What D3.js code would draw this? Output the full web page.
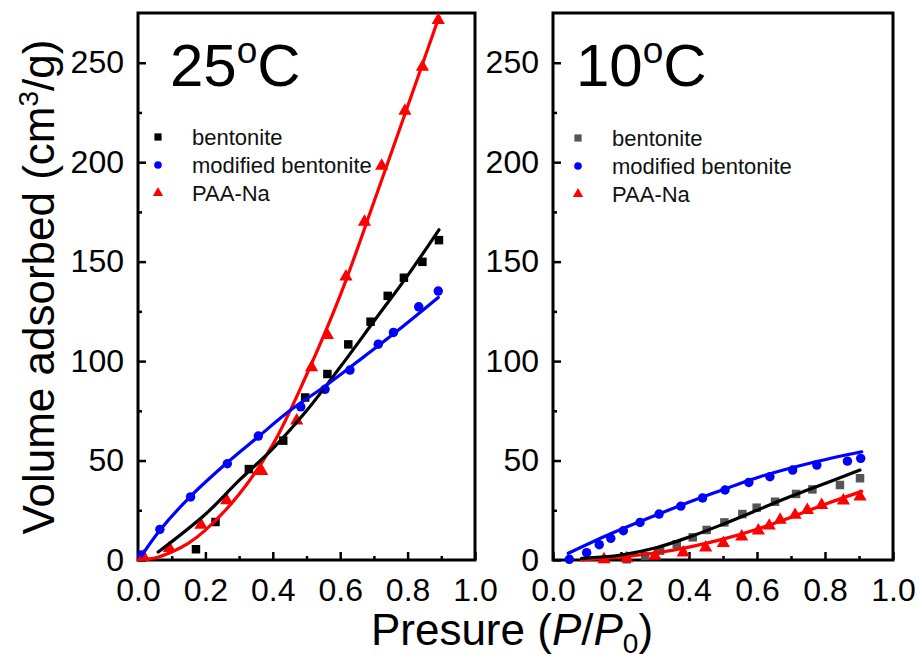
<!DOCTYPE html>
<html>
<head>
<meta charset="utf-8">
<script src="https://cdn.jsdelivr.net/npm/d3@7"></script>
<style>
  html, body { margin: 0; padding: 0; background: #fff; }
  svg { display: block; font-family: "Liberation Sans", Arial, sans-serif; }
</style>
</head>
<body>
<svg id="chart" width="920" height="663"></svg>
<script>
// ---------- data ----------
const xTicks = [0, 0.2, 0.4, 0.6, 0.8, 1.0];
const xMinorTicks = [0.1, 0.3, 0.5, 0.7, 0.9];
const yTicks = [0, 50, 100, 150, 200, 250];
const yMinorTicks = [25, 75, 125, 175, 225];
const seriesNames = ["bentonite", "modified bentonite", "PAA-Na"];

// 25 °C panel: measured points [P/P0, volume]
const bent25 = [[0.172,5.4],[0.23,19.1],[0.329,45.7],[0.431,60],[0.496,81.7],[0.562,93.5],[0.624,108.4],[0.69,119.8],[0.741,132.8],[0.789,141.9],[0.844,149.9],[0.893,160.8]];
const mod25  = [[0.011,2.5],[0.065,15.4],[0.156,31.7],[0.265,48.4],[0.357,62.3],[0.483,77],[0.555,85.8],[0.629,95.5],[0.713,108.5],[0.758,114.4],[0.833,127.3],[0.891,135.2]];
const paa25  = [[0.016,1.7],[0.093,5.9],[0.187,17.6],[0.263,30],[0.367,44.7],[0.471,70],[0.515,96.8],[0.562,113],[0.617,142.4],[0.672,170],[0.723,198.1],[0.792,225.8],[0.844,247.9],[0.891,271.4]];
// 25 °C fitted curves (traced)
const bent25Fit = [[0.06,4],[0.2,23],[0.3,40],[0.4,56],[0.5,75],[0.6,97],[0.7,120],[0.8,143],[0.893,166]];
const mod25Fit  = [[0.01,2],[0.065,15],[0.156,32],[0.265,49],[0.357,62],[0.45,75],[0.56,88],[0.669,102],[0.768,115],[0.891,132]];
const paa25Fit  = [[0.0,0],[0.05,1],[0.1,4],[0.15,8.5],[0.2,15],[0.3,33],[0.4,58],[0.5,93],[0.6,133],[0.7,180],[0.8,228],[0.893,273]];

// 10 °C panel: measured points
const bent10 = [[0.217,0.35],[0.271,2],[0.315,4.7],[0.364,7.9],[0.411,11.4],[0.452,15.1],[0.504,18.9],[0.557,23.1],[0.599,26.3],[0.653,29.3],[0.715,33.2],[0.763,35.5],[0.844,37.7],[0.903,41.1]];
const mod10  = [[0.048,0.35],[0.099,3.7],[0.136,7.7],[0.17,10.9],[0.207,14.7],[0.256,18.9],[0.312,23.1],[0.376,27.1],[0.44,31.2],[0.506,35.2],[0.576,39],[0.638,41.9],[0.705,45.2],[0.776,47.7],[0.866,49.7],[0.905,51.1]];
const paa10  = [[0.15,0.3],[0.217,0.8],[0.3,2],[0.383,3.7],[0.449,6.2],[0.501,8.4],[0.555,11.7],[0.604,14.7],[0.636,17.2],[0.668,20.1],[0.712,22.6],[0.748,25.1],[0.79,27.6],[0.854,29.8],[0.903,31.8]];
// 10 °C fitted curves (traced)
const bent10Fit = [[0.084,0.8],[0.2,2.5],[0.3,6],[0.4,11.5],[0.5,18],[0.6,25],[0.7,32],[0.8,38.5],[0.903,45.2]];
const mod10Fit  = [[0.045,3.4],[0.168,13.1],[0.315,23.4],[0.462,33],[0.609,41.9],[0.758,48.8],[0.908,54.4]];
const paa10Fit  = [[0.084,0],[0.2,1.5],[0.3,3.5],[0.4,6.5],[0.5,10.5],[0.6,15.5],[0.7,21.5],[0.8,28],[0.908,34.5]];

// ---------- drawing ----------
const svg = d3.select("#chart");
const yTop = 13, yBottom = 560;
const y = d3.scaleLinear().domain([0, 275]).range([yBottom, yTop]);

const panels = [
  { x0: 138, x1: 475, title: "25", bentColor: "#000000",
    bent: bent25, mod: mod25, paa: paa25, bentFit: bent25Fit, modFit: mod25Fit, paaFit: paa25Fit,
    titleX: 170, legendX: 158, legendTextX: 192, legendY: 137 },
  { x0: 553, x1: 893, title: "10", bentColor: "#555555",
    bent: bent10, mod: mod10, paa: paa10, bentFit: bent10Fit, modFit: mod10Fit, paaFit: paa10Fit,
    titleX: 576, legendX: 578, legendTextX: 612, legendY: 138 }
];

const RED = "#ff0000", BLUE = "#0000ff";

panels.forEach(P => {
  const x = d3.scaleLinear().domain([0, 1]).range([P.x0, P.x1]);
  const g = svg.append("g");

  // axes with inward ticks
  const xAxis = g.append("g").attr("transform", `translate(0,${yBottom})`)
    .call(d3.axisBottom(x).tickValues(xTicks).tickSizeInner(-8).tickSizeOuter(0).tickPadding(18)
      .tickFormat(d3.format(".1f")));
  const xAxisMinor = g.append("g").attr("transform", `translate(0,${yBottom})`)
    .call(d3.axisBottom(x).tickValues(xMinorTicks).tickSizeInner(-4).tickSizeOuter(0).tickFormat(""));
  const yAxis = g.append("g").attr("transform", `translate(${P.x0},0)`)
    .call(d3.axisLeft(y).tickValues(yTicks).tickSizeInner(-8).tickSizeOuter(0).tickPadding(14));
  const yAxisMinor = g.append("g").attr("transform", `translate(${P.x0},0)`)
    .call(d3.axisLeft(y).tickValues(yMinorTicks).tickSizeInner(-4).tickSizeOuter(0).tickFormat(""));
  [xAxis, xAxisMinor, yAxis, yAxisMinor].forEach(a => {
    a.select(".domain").remove();
    a.selectAll(".tick line").attr("stroke", "#000").attr("stroke-width", 2.5);
    a.selectAll("text").attr("fill", "#000").attr("font-family", '"Liberation Sans", Arial, sans-serif');
  });
  xAxis.selectAll("text").attr("font-size", 32).attr("dy", "0.71em");
  yAxis.selectAll("text").attr("font-size", 32);

  // frame
  g.append("rect").attr("x", P.x0).attr("y", yTop)
    .attr("width", P.x1 - P.x0).attr("height", yBottom - yTop)
    .attr("fill", "none").attr("stroke", "#000").attr("stroke-width", 3);

  const plot = g.append("g");
  const sym = d3.symbol();
  const markers = (data, type, size, color) => {
    plot.selectAll(null).data(data).enter().append("path")
      .attr("d", sym.type(type).size(size)())
      .attr("transform", d => `translate(${x(d[0])},${y(d[1])})`)
      .attr("fill", color);
  };
  markers(P.bent, d3.symbolSquare, 72, P.bentColor);
  markers(P.mod, d3.symbolCircle, 70, BLUE);
  markers(P.paa, d3.symbolTriangle, 76, RED);

  const line = d3.line().x(d => x(d[0])).y(d => y(d[1])).curve(d3.curveCatmullRom.alpha(0.5));
  [[P.paaFit, RED], [P.bentFit, "#000"], [P.modFit, BLUE]].forEach(([data, c]) => {
    plot.append("path").attr("d", line(data)).attr("fill", "none")
      .attr("stroke", c).attr("stroke-width", 3.2).attr("stroke-linecap", "round");
  });

  // panel title  e.g. 25°C (superscript o)
  const t = g.append("text").attr("x", P.titleX).attr("y", 86)
    .attr("font-size", 60).attr("fill", "#000");
  t.append("tspan").text(P.title);
  t.append("tspan").attr("font-size", 37).attr("dy", -23).text("o");
  t.append("tspan").attr("dy", 23).text("C");

  // legend
  const lg = g.append("g");
  const legendItems = [
    [seriesNames[0], d3.symbolSquare, 52, P.bentColor],
    [seriesNames[1], d3.symbolCircle, 46, BLUE],
    [seriesNames[2], d3.symbolTriangle, 46, RED]
  ];
  legendItems.forEach((it, i) => {
    const yy = P.legendY + i * 28;
    lg.append("path").attr("d", d3.symbol().type(it[1]).size(it[2])())
      .attr("transform", `translate(${P.legendX},${yy})`).attr("fill", it[3]);
    lg.append("text").attr("x", P.legendTextX).attr("y", yy)
      .attr("dominant-baseline", "central").attr("font-size", 22).attr("fill", "#111")
      .text(it[0]);
  });
});

// axis titles
const yt = svg.append("text")
  .attr("transform", "translate(54,287) rotate(-90)")
  .attr("text-anchor", "middle").attr("font-size", 44).attr("fill", "#000");
yt.append("tspan").text("Volume adsorbed (cm");
yt.append("tspan").attr("font-size", 28).attr("dy", -16).text("3");
yt.append("tspan").attr("dy", 16).text("/g)");

const xt = svg.append("text").attr("x", 512).attr("y", 645)
  .attr("text-anchor", "middle").attr("font-size", 44).attr("fill", "#000");
xt.append("tspan").text("Presure (");
xt.append("tspan").attr("font-style", "italic").text("P");
xt.append("tspan").text("/");
xt.append("tspan").attr("font-style", "italic").text("P");
xt.append("tspan").attr("font-size", 28).attr("dy", 8).text("0");
xt.append("tspan").attr("dy", -8).text(")");
</script>
</body>
</html>
